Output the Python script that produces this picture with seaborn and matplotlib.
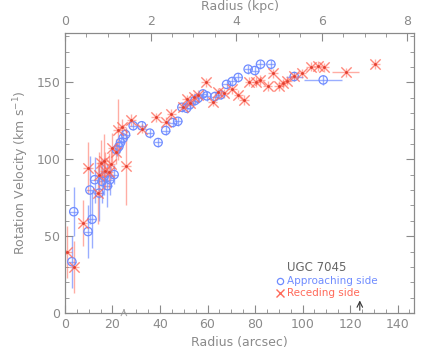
import numpy as np
import pandas as pd
import matplotlib
matplotlib.use('Agg')
import matplotlib.pyplot as plt
import seaborn as sns

# approaching side: radius (arcsec), velocity (km/s), errors
app_r = [2.9, 3.7, 9.7, 11.4, 10.5, 12.5, 14.4, 15.6, 16.5, 17.9, 18.9, 20.7,
         21.7, 22.7, 23.4, 24.5, 25.5, 28.7, 32.3, 35.7, 39.2, 42.4, 45.3, 47.5,
         49.2, 51.2, 52.5, 54.7, 56.0, 58.1, 59.7, 63.1, 65.5, 68.0, 70.4, 72.9,
         77.1, 79.9, 82.3, 86.7, 96.5, 108.7]
app_v = [33.4, 65.9, 53.0, 61.0, 80.0, 86.7, 78.0, 85.6, 88.8, 82.8, 86.7, 90.0,
         106.2, 108.3, 110.9, 113.8, 116.1, 121.8, 121.8, 117.0, 110.9, 118.7, 123.9, 124.7,
         133.8, 133.2, 135.4, 138.2, 139.7, 142.5, 141.2, 140.8, 141.9, 148.7, 150.6, 153.2,
         158.6, 157.7, 161.8, 161.8, 153.8, 151.6]
app_verr = [17, 16, 17, 19, 22, 15, 18, 14, 12, 14, 10, 6,
            4, 4, 4, 4, 4, 3, 3, 3, 3, 3, 3, 3,
            3, 3, 3, 3, 3, 3, 3, 3, 3, 3, 3, 3,
            3, 3, 3, 3, 3, 3]
app_rerr = [1.8] * 40 + [3.5, 8.0]

# receding side
rec_r = [0.8, 3.8, 7.4, 9.7, 13.7, 14.4, 15.0, 16.3, 16.8, 18.4, 19.2, 20.0,
         21.3, 22.4, 23.8, 25.6, 28.0, 32.6, 38.2, 42.4, 44.8, 49.5, 51.4, 52.8,
         54.2, 56.0, 59.2, 62.2, 64.5, 66.9, 70.5, 73.0, 75.3, 77.6, 80.6, 82.3,
         85.3, 87.6, 90.0, 91.8, 93.5, 96.5, 99.6, 103.5, 106.3, 109.0, 118.1, 130.7]
rec_v = [39.5, 30.0, 58.6, 94.3, 78.0, 89.9, 97.5, 98.6, 92.5, 92.0, 96.9, 107.0,
         105.0, 119.2, 121.3, 95.3, 125.6, 120.0, 127.4, 124.5, 129.4, 134.3, 139.0, 136.5,
         140.4, 141.9, 150.0, 137.5, 143.6, 143.0, 145.6, 141.9, 138.6, 150.5, 150.2, 151.6,
         147.7, 156.0, 147.7, 149.5, 151.2, 154.2, 156.0, 160.3, 160.7, 159.9, 156.6, 162.0]
rec_verr = [17, 17, 15, 17, 20, 15, 15, 18, 12, 12, 10, 10,
            8, 20, 5, 25, 4, 3, 3, 3, 3, 3, 3, 3,
            3, 3, 3, 3, 3, 3, 3, 3, 3, 3, 3, 3,
            3, 3, 3, 3, 3, 3, 3, 3, 3, 3, 3, 3]
rec_rerr = [2.0] * 46 + [5.7, 2.0]

arcsec_per_kpc = 18.02
arrow_r = [24.8, 124.1]

blue = '#6f8cff'
red = '#ff6a5a'
grey = '#8a8a8a'

app = pd.DataFrame({'r': app_r, 'v': app_v})
rec = pd.DataFrame({'r': rec_r, 'v': rec_v})

sns.set_style('ticks')
plt.rcParams['font.family'] = ['DejaVu Sans']
plt.rcParams['axes.edgecolor'] = grey
plt.rcParams['xtick.color'] = grey
plt.rcParams['ytick.color'] = grey

fig = plt.figure(figsize=(4.36, 3.49), dpi=100)
ax = fig.add_axes([0.149, 0.103, 0.801, 0.802])

ax.errorbar(app_r, app_v, yerr=app_verr, xerr=app_rerr, fmt='none',
            ecolor=blue, elinewidth=1.0, alpha=0.7, zorder=2)
ax.errorbar(rec_r, rec_v, yerr=rec_verr, xerr=rec_rerr, fmt='none',
            ecolor=red, elinewidth=1.0, alpha=0.55, zorder=2)
sns.scatterplot(data=app, x='r', y='v', ax=ax, marker='o', s=36,
                facecolor='none', edgecolor=blue, linewidth=0.9, zorder=3)
sns.scatterplot(data=rec, x='r', y='v', ax=ax, marker='x', s=55,
                color=red, linewidth=1.0, alpha=0.8, zorder=3)
ax.scatter(rec_r, rec_v, s=4, color='#e04030', zorder=4, linewidths=0)

ax.set_xlim(0, 147)
ax.set_ylim(0, 182)
ax.set_xticks(np.arange(0, 141, 20))
ax.set_xticks(np.arange(0, 147, 5), minor=True)
ax.set_yticks([0, 50, 100, 150])
ax.set_yticks(np.arange(0, 182, 10), minor=True)
ax.tick_params(which='both', direction='in', right=True, top=False,
               labelsize=9, labelcolor=grey)
ax.tick_params(which='major', length=6)
ax.tick_params(which='minor', length=3)
ax.set_xlabel('Radius (arcsec)', color=grey, fontsize=9)
ax.set_ylabel('Rotation Velocity (km s$^{-1}$)', color=grey, fontsize=9)
for s in ax.spines.values():
    s.set_color(grey)

top = ax.twiny()
top.set_xlim(0, 147 / arcsec_per_kpc)
top.set_xticks([0, 2, 4, 6, 8])
top.set_xticks(np.arange(0, 8.1, 0.5), minor=True)
top.tick_params(which='both', direction='in', labelsize=9, labelcolor=grey)
top.tick_params(which='major', length=6)
top.tick_params(which='minor', length=3)
top.set_xlabel('Radius (kpc)', color=grey, fontsize=9)

ax.annotate('', xy=(arrow_r[0], 4.5), xytext=(arrow_r[0], 0),
            arrowprops=dict(arrowstyle='->', color='#aaaaaa', lw=0.8))
ax.annotate('', xy=(arrow_r[1], 10), xytext=(arrow_r[1], 0),
            arrowprops=dict(arrowstyle='->', color='#333333', lw=0.8))

ax.text(0.636, 0.163, 'UGC 7045', transform=ax.transAxes, color='#666666',
        fontsize=8.5, va='center')
ax.plot([0.615], [0.113], transform=ax.transAxes, marker='o', ms=4.5,
        mfc='none', mec=blue, mew=0.9)
ax.text(0.636, 0.113, 'Approaching side', transform=ax.transAxes, color=blue,
        fontsize=7.5, va='center')
ax.plot([0.615], [0.07], transform=ax.transAxes, marker='x', ms=5.5,
        color=red, mew=1.0)
ax.text(0.636, 0.07, 'Receding side', transform=ax.transAxes, color=red,
        fontsize=7.5, va='center')

fig.savefig('out.png', dpi=100)
